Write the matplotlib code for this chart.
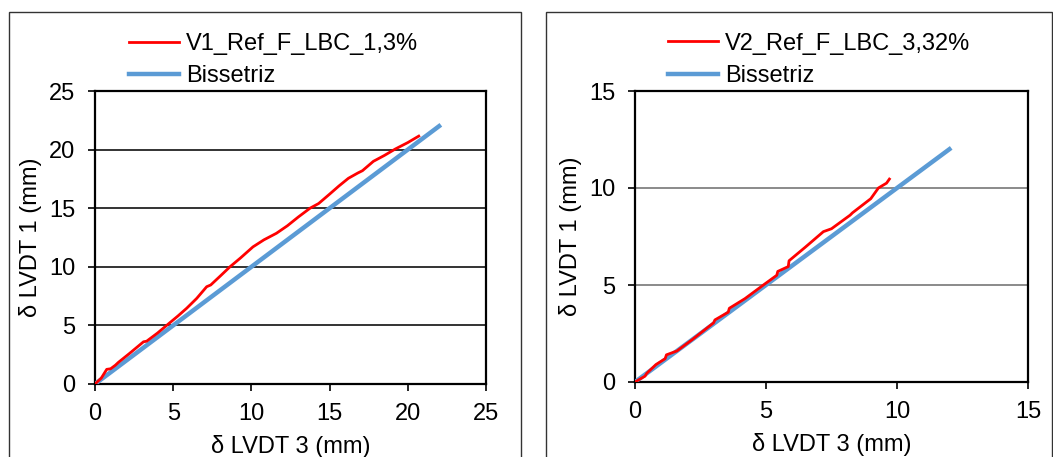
import matplotlib.pyplot as plt
from matplotlib.patches import Rectangle
import numpy as np

plt.rcParams['font.family'] = ['Liberation Sans', 'DejaVu Sans']

# dados
v1_x = [0, 0.4, 0.75, 1.0, 1.3, 1.5, 2.2, 3.1, 3.3, 4.0, 4.58, 5.3, 5.86, 6.5, 7.14, 7.4, 8.0, 8.63,
        9.3, 10.1, 10.8, 11.6, 12.3, 13.0, 13.75, 14.3, 15.0, 15.6, 16.2, 16.8, 17.1, 17.8, 18.5, 19.2, 20.0, 20.7]
v1_y = [0, 0.5, 1.25, 1.3, 1.6, 1.85, 2.6, 3.6, 3.65, 4.35, 5.0, 5.8, 6.46, 7.3, 8.3, 8.45, 9.2, 10.0,
        10.75, 11.7, 12.3, 12.86, 13.5, 14.25, 15.0, 15.4, 16.2, 16.9, 17.55, 18.0, 18.2, 19.0, 19.5, 20.05, 20.6, 21.15]
bis1 = [0, 22]

v2_x = [0, 0.38, 0.45, 0.8, 1.15, 1.2, 1.6, 2.2, 3.0, 3.05, 3.56, 3.6, 4.2, 4.9, 5.41, 5.45,
        5.85, 5.88, 6.5, 7.19, 7.5, 8.21, 8.3, 9.0, 9.29, 9.6, 9.71]
v2_y = [0, 0.3, 0.45, 0.9, 1.2, 1.4, 1.6, 2.2, 3.05, 3.2, 3.6, 3.8, 4.3, 5.0, 5.5, 5.7,
        5.95, 6.25, 6.95, 7.75, 7.9, 8.6, 8.72, 9.45, 10.0, 10.25, 10.46]
bis2 = [0, 12]

ticks1 = [0, 5, 10, 15, 20, 25]
ticks2 = [0, 5, 10, 15]

W, H = 1053, 457
fig = plt.figure(figsize=(W / 100, H / 100), dpi=100)

# molduras dos graficos
fig.patches.append(Rectangle((9 / W, -0.1), 512 / W, 1.1 - 12 / H, transform=fig.transFigure,
                             fill=False, edgecolor='#333333', linewidth=1.0))
fig.patches.append(Rectangle((546 / W, -0.1), 506 / W, 1.1 - 12 / H, transform=fig.transFigure,
                             fill=False, edgecolor='#333333', linewidth=1.0))


def painel(ax, x, y, bis, lab, ticks, lim, gridcolor, legx):
    ax.plot(x, y, color='#ff0000', linewidth=2.0, label=lab, zorder=4)
    ax.plot(bis, bis, color='#5b9bd5', linewidth=3.2, label='Bissetriz', zorder=3)
    ax.set_xlim(0, lim)
    ax.set_ylim(0, lim)
    ax.set_xticks(ticks)
    ax.set_yticks(ticks)
    ax.tick_params(labelsize=17, direction='out', length=5, width=1.2, pad=9)
    for s in ax.spines.values():
        s.set_linewidth(1.6)
        s.set_color('black')
    for t in ticks[1:-1]:
        ax.axhline(t, color=gridcolor, linewidth=1.2, zorder=1)
    ax.set_xlabel('δ LVDT 3 (mm)', fontsize=17, labelpad=7)
    ax.set_ylabel('δ LVDT 1 (mm)', fontsize=17)
    ax.yaxis.set_label_coords(-0.135, 0.5)
    ax.legend(loc='lower left', bbox_to_anchor=(legx, 0.972), frameon=False, fontsize=17,
              handlelength=2.1, handletextpad=0.3, labelspacing=0.45, borderpad=0)


ax1 = fig.add_axes([95 / W, 1 - 384 / H, 391 / W, 293 / H])
painel(ax1, v1_x, v1_y, bis1, 'V1_Ref_F_LBC_1,3%', ticks1, 25, '#111111', 0.057)

ax2 = fig.add_axes([635 / W, 1 - 382 / H, 393 / W, 291 / H])
painel(ax2, v2_x, v2_y, bis2, 'V2_Ref_F_LBC_3,32%', ticks2, 15, '#777777', 0.054)

fig.savefig('out.png', dpi=100)
